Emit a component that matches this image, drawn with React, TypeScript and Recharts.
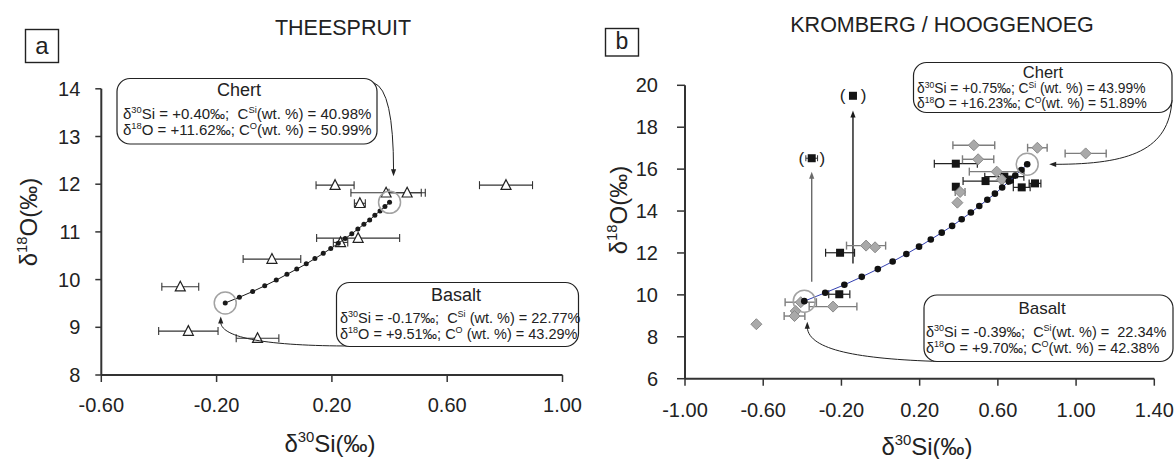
import React from 'react';
import {
  ScatterChart,
  Scatter,
  XAxis,
  YAxis,
  ErrorBar,
  ReferenceDot,
  ReferenceLine,
} from 'recharts';

// ---------- Panel a: Theespruit (triangles) ----------
const thSi = [0.211, 0.388, 0.461, 0.804, 0.297, 0.291, 0.23, -0.008, -0.326, -0.298, -0.058];
const thO = [11.98, 11.82, 11.82, 11.98, 11.6, 10.87, 10.78, 10.43, 9.85, 8.92, 8.77];
const thSiErr = [0.066, 0.122, 0.063, 0.092, 0.019, 0.144, 0.025, 0.1, 0.064, 0.103, 0.074];

// basalt - chert mixing curve (5 % steps)
const thMixSi = [-0.17, -0.121, -0.075, -0.033, 0.007, 0.044, 0.078, 0.111, 0.141, 0.17, 0.196, 0.222, 0.246, 0.269, 0.29, 0.311, 0.331, 0.349, 0.367, 0.384, 0.4];
const thMixO = [9.51, 9.63, 9.75, 9.87, 9.99, 10.11, 10.22, 10.33, 10.44, 10.55, 10.65, 10.76, 10.86, 10.96, 11.06, 11.16, 11.25, 11.35, 11.44, 11.53, 11.62];

const thBasalt = { si: -0.17, o: 9.51 };
const thChert = { si: 0.4, o: 11.62 };

const thXTicks = [-0.6, -0.2, 0.2, 0.6, 1.0];
const thYTicks = [8, 9, 10, 11, 12, 13, 14];

// ---------- Panel b: Kromberg / Hooggenoeg ----------
const krSqSi = [-0.207, -0.211, 0.385, 0.537, 0.385, 0.722, 0.79, 0.633, 0.662];
const krSqO = [12.01, 10.03, 16.26, 15.43, 15.16, 15.13, 15.32, 15.64, 15.5];
const krSqErr = [0.074, 0.054, 0.11, 0.115, 0, 0.043, 0.03, 0.1, 0];

const krDiSi = [0.477, 0.802, 1.049, 0.499, 0.594, 0.62, 0.407, 0.393, -0.074, -0.028, -0.408, -0.243, -0.434, -0.44, -0.635];
const krDiO = [17.14, 17.02, 16.75, 16.47, 15.88, 15.5, 14.91, 14.4, 12.35, 12.27, 9.65, 9.44, 9.23, 8.99, 8.6];
const krDiErr = [0.107, 0.05, 0.105, 0.08, 0.14, 0, 0.025, 0, 0.1, 0, 0.08, 0.122, 0, 0.053, 0];

// bracketed samples and the shift arrows pointing at them
const krOutSi = [-0.352, -0.141];
const krOutO = [16.52, 19.5];
const krOutErr = [0.03, 0];
const krArrowFrom = [10.63, 11.5];
const krArrowTo = [15.88, 18.8];
const krArrowColor = ['#6a6a6a', '#1a1a1a'];

const krMixSi = [-0.39, -0.283, -0.185, -0.096, -0.014, 0.062, 0.132, 0.197, 0.257, 0.313, 0.366, 0.415, 0.462, 0.505, 0.546, 0.585, 0.622, 0.656, 0.689, 0.72, 0.75];
const krMixO = [9.7, 10.1, 10.48, 10.86, 11.23, 11.59, 11.95, 12.3, 12.64, 12.97, 13.29, 13.61, 13.93, 14.24, 14.54, 14.83, 15.12, 15.41, 15.69, 15.96, 16.23];

const krBasalt = { si: -0.39, o: 9.7 };
const krChert = { si: 0.75, o: 16.23 };

const krXTicks = [-1.0, -0.6, -0.2, 0.2, 0.6, 1.0, 1.4];
const krYTicks = [6, 8, 10, 12, 14, 16, 18, 20];

// ---------- helpers ----------
const zip = (xs: number[], ys: number[], errs?: number[]) =>
  xs.map((x, i) => ({ x, y: ys[i], err: errs ? errs[i] : 0 }));

const thTriangles = zip(thSi, thO, thSiErr);
const thMix = zip(thMixSi, thMixO);
const krSquares = zip(krSqSi, krSqO, krSqErr);
const krDiamonds = zip(krDiSi, krDiO, krDiErr);
const krOutliers = zip(krOutSi, krOutO, krOutErr);
const krMix = zip(krMixSi, krMixO);

const INK = '#222';
const FONT = '"Liberation Sans", Arial, Helvetica, sans-serif';

const fmt2 = (v: number) => v.toFixed(2);

const Triangle = (p: any) => {
  const { cx, cy } = p;
  if (cx == null || cy == null) return <g />;
  return (
    <polygon
      points={`${cx},${cy - 5.5} ${cx + 5},${cy + 4.2} ${cx - 5},${cy + 4.2}`}
      fill="#fff"
      stroke={INK}
      strokeWidth={1.2}
    />
  );
};

const Diamond = (p: any) => {
  const { cx, cy } = p;
  if (cx == null || cy == null) return <g />;
  return (
    <polygon
      points={`${cx},${cy - 5.5} ${cx + 5.5},${cy} ${cx},${cy + 5.5} ${cx - 5.5},${cy}`}
      fill="#a9a9a9"
      stroke="#8a8a8a"
      strokeWidth={1}
    />
  );
};

const Square = (p: any) => {
  const { cx, cy } = p;
  if (cx == null || cy == null) return <g />;
  return <rect x={cx - 4} y={cy - 4} width={8} height={8} fill="#151515" />;
};

const BracketSquare = (p: any) => {
  const { cx, cy } = p;
  if (cx == null || cy == null) return <g />;
  return (
    <g>
      <rect x={cx - 4} y={cy - 4} width={8} height={8} fill="#151515" />
      <text x={cx - 10.5} y={cy + 5.5} fontSize={17} textAnchor="middle" fill={INK}>(</text>
      <text x={cx + 10.5} y={cy + 5.5} fontSize={17} textAnchor="middle" fill={INK}>)</text>
    </g>
  );
};

const MixDotA = (p: any) => {
  const { cx, cy } = p;
  if (cx == null || cy == null) return <g />;
  return <circle cx={cx} cy={cy} r={2.5} fill="#1a1a1a" />;
};

const MixDotB = (p: any) => {
  const { cx, cy } = p;
  if (cx == null || cy == null) return <g />;
  return <circle cx={cx} cy={cy} r={3.3} fill="#111" />;
};

// small filled arrow head with its tip at (tx, ty)
const head = (tx: number, ty: number, dir: 'up' | 'down' | 'left', color = INK) => {
  const l = 7;
  const w = 2.6;
  let pts = '';
  if (dir === 'down') pts = `${tx},${ty} ${tx - w},${ty - l} ${tx + w},${ty - l}`;
  if (dir === 'up') pts = `${tx},${ty} ${tx - w},${ty + l} ${tx + w},${ty + l}`;
  if (dir === 'left') pts = `${tx},${ty} ${tx + l},${ty - w} ${tx + l},${ty + w}`;
  return <polygon points={pts} fill={color} />;
};

const RING = '#a2a2a2';

// end-member rings with the call-out arrows coming from the boxes
const ChertA = (p: any) => {
  const { cx, cy } = p;
  const tx = cx + 4;
  const ty = cy - 26;
  return (
    <g>
      <circle cx={cx} cy={cy} r={11} fill="none" stroke={RING} strokeWidth={1.5} />
      <path d={`M 374 83 Q ${tx} 90 ${tx} ${ty - 6}`} fill="none" stroke={INK} strokeWidth={1} />
      {head(tx, ty, 'down')}
    </g>
  );
};

const BasaltA = (p: any) => {
  const { cx, cy } = p;
  const tx = cx - 4.5;
  const ty = cy + 13.5;
  return (
    <g>
      <circle cx={cx} cy={cy} r={11} fill="none" stroke={RING} strokeWidth={1.5} />
      <path
        d={`M 352 346 C 268 346 ${tx + 1} 338 ${tx} ${ty + 6}`}
        fill="none"
        stroke={INK}
        strokeWidth={1}
      />
      {head(tx, ty, 'up')}
    </g>
  );
};

const ChertB = (p: any) => {
  const { cx, cy } = p;
  const tx = cx + 22;
  const ty = cy;
  return (
    <g>
      <circle cx={cx} cy={cy} r={11} fill="none" stroke={RING} strokeWidth={1.5} />
      <path
        d={`M 582 100 C 579 150 540 ${ty} ${tx + 6} ${ty}`}
        fill="none"
        stroke={INK}
        strokeWidth={1}
      />
      {head(tx, ty, 'left')}
    </g>
  );
};

const BasaltB = (p: any) => {
  const { cx, cy } = p;
  const tx = cx + 3;
  const ty = cy + 20.5;
  return (
    <g>
      <circle cx={cx} cy={cy} r={11} fill="none" stroke={RING} strokeWidth={1.5} />
      <path
        d={`M 350 361.5 C 268 359 ${tx + 2} 350 ${tx} ${ty + 6}`}
        fill="none"
        stroke={INK}
        strokeWidth={1}
      />
      {head(tx, ty, 'up')}
    </g>
  );
};

const shiftArrow = (color: string) => (p: any) => {
  const { x1, y1, x2, y2 } = p;
  if (x1 == null) return <g />;
  return (
    <g>
      <line x1={x1} y1={y1} x2={x2} y2={y2 + 6} stroke={color} strokeWidth={1.4} />
      {head(x2, y2, 'up', color)}
    </g>
  );
};

// text with superscript pieces: a segment starting with '^' is raised
function Rich(props: {
  x: number;
  y: number;
  fs: number;
  segs: string[];
  anchor?: 'start' | 'middle' | 'end';
  transform?: string;
  lift?: number;
}) {
  const { x, y, fs, segs, anchor = 'start', transform, lift = 0.42 } = props;
  const shift = fs * lift;
  let up = false;
  return (
    <text
      x={x}
      y={y}
      fontSize={fs}
      textAnchor={anchor}
      transform={transform}
      fill={INK}
      style={{ whiteSpace: 'pre' }}
    >
      {segs.map((s, i) => {
        const sup = s.startsWith('^');
        const t = sup ? s.slice(1) : s;
        let dy = 0;
        if (sup && !up) {
          dy = -shift;
          up = true;
        } else if (!sup && up) {
          dy = shift;
          up = false;
        }
        return (
          <tspan key={i} dy={dy || undefined} fontSize={sup ? fs * 0.62 : undefined}>
            {t}
          </tspan>
        );
      })}
    </text>
  );
}

const axisLine = { stroke: '#333', strokeWidth: 2 };
const tickLine = { stroke: '#333', strokeWidth: 1.5 };
const tickText = { fill: INK, fontSize: 20 };

function PanelA() {
  return (
    <ScatterChart
      width={590}
      height={459}
      margin={{ top: 88.8, right: 27.5, bottom: 0, left: 0 }}
    >
      <XAxis
        type="number"
        dataKey="x"
        domain={[-0.6, 1.0]}
        ticks={thXTicks}
        interval={0}
        tickFormatter={fmt2}
        height={84}
        tickSize={7}
        tickMargin={16}
        axisLine={axisLine}
        tickLine={tickLine}
        tick={tickText}
      />
      <YAxis
        type="number"
        dataKey="y"
        domain={[8, 14]}
        ticks={thYTicks}
        interval={0}
        width={101.3}
        tickSize={6}
        tickMargin={15}
        axisLine={axisLine}
        tickLine={tickLine}
        tick={tickText}
      />
      <Scatter data={thTriangles} shape={Triangle} isAnimationActive={false}>
        <ErrorBar dataKey="err" direction="x" width={4} stroke="#333" strokeWidth={1.1} />
      </Scatter>
      <Scatter
        data={thMix}
        shape={MixDotA}
        line={{ stroke: '#1a1a1a', strokeWidth: 1 }}
        lineType="joint"
        isAnimationActive={false}
      />
      <ReferenceDot x={thChert.si} y={thChert.o} r={11} shape={ChertA} />
      <ReferenceDot x={thBasalt.si} y={thBasalt.o} r={11} shape={BasaltA} />
    </ScatterChart>
  );
}

function PanelB() {
  return (
    <ScatterChart
      width={585}
      height={459}
      margin={{ top: 85.3, right: 20.7, bottom: 0, left: 0 }}
    >
      <XAxis
        type="number"
        dataKey="x"
        domain={[-1.0, 1.4]}
        ticks={krXTicks}
        interval={0}
        tickFormatter={fmt2}
        height={80.3}
        tickSize={7}
        tickMargin={17}
        axisLine={axisLine}
        tickLine={tickLine}
        tick={tickText}
      />
      <YAxis
        type="number"
        dataKey="y"
        domain={[6, 20]}
        ticks={krYTicks}
        interval={0}
        width={95}
        tickSize={8}
        tickMargin={19}
        axisLine={axisLine}
        tickLine={tickLine}
        tick={tickText}
      />
      {krOutSi.map((si, i) => (
        <ReferenceLine
          key={i}
          segment={[
            { x: si, y: krArrowFrom[i] },
            { x: si, y: krArrowTo[i] },
          ]}
          stroke={krArrowColor[i]}
          shape={shiftArrow(krArrowColor[i])}
        />
      ))}
      <Scatter data={krSquares} shape={Square} isAnimationActive={false}>
        <ErrorBar dataKey="err" direction="x" width={4} stroke="#222" strokeWidth={1.2} />
      </Scatter>
      <Scatter data={krDiamonds} shape={Diamond} isAnimationActive={false}>
        <ErrorBar dataKey="err" direction="x" width={4} stroke="#7d7d7d" strokeWidth={1.4} />
      </Scatter>
      <Scatter data={krOutliers} shape={BracketSquare} isAnimationActive={false}>
        <ErrorBar dataKey="err" direction="x" width={3} stroke="#333" strokeWidth={1} />
      </Scatter>
      <Scatter
        data={krMix}
        shape={MixDotB}
        line={{ stroke: '#3340b0', strokeWidth: 1 }}
        lineType="joint"
        isAnimationActive={false}
      />
      <ReferenceDot x={krChert.si} y={krChert.o} r={11} shape={ChertB} />
      <ReferenceDot x={krBasalt.si} y={krBasalt.o} r={11} shape={BasaltB} />
    </ScatterChart>
  );
}

function Labels() {
  return (
    <svg
      width={1175}
      height={459}
      style={{ position: 'absolute', left: 0, top: 0, pointerEvents: 'none' }}
    >
      {/* panel tags */}
      <rect x={25.5} y={29.5} width={33} height={33} fill="none" stroke={INK} strokeWidth={1.4} />
      <text x={42} y={54} fontSize={24} textAnchor="middle" fill={INK}>a</text>
      <rect x={605.5} y={28.5} width={33} height={27.5} fill="none" stroke={INK} strokeWidth={1.4} />
      <text x={622} y={49} fontSize={23} textAnchor="middle" fill={INK}>b</text>

      {/* titles */}
      <text x={343} y={35} fontSize={21.5} textAnchor="middle" fill={INK}>THEESPRUIT</text>
      <text x={942} y={32} fontSize={21.5} textAnchor="middle" fill={INK}>KROMBERG / HOOGGENOEG</text>

      {/* axis titles */}
      <Rich x={330} y={452} fs={24} anchor="middle" segs={['δ', '^30', 'Si(‰)']} />
      <Rich x={927} y={455} fs={24} anchor="middle" segs={['δ', '^30', 'Si(‰)']} />
      <Rich x={0} y={0} fs={24} anchor="middle" transform="translate(37,222) rotate(-90)" segs={['δ', '^18', 'O(‰)']} />
      <Rich x={0} y={0} fs={24} anchor="middle" transform="translate(627,210) rotate(-90)" segs={['δ', '^18', 'O(‰)']} />

      {/* panel a: chert box */}
      <rect x={117} y={78.5} width={260} height={65.5} rx={13} fill="#fff" stroke={INK} strokeWidth={1.2} />
      <text x={239} y={96} fontSize={18} textAnchor="middle" fill={INK}>Chert</text>
      <Rich x={123} y={119} fs={15} segs={['δ', '^30', 'Si = +0.40‰;  C', '^Si', '(wt. %) = 40.98%']} />
      <Rich x={123} y={135} fs={15} segs={['δ', '^18', 'O = +11.62‰; C', '^O', '(wt. %) = 50.99%']} />

      {/* panel a: basalt box */}
      <rect x={336.5} y={282.5} width={242} height={64} rx={13} fill="#fff" stroke={INK} strokeWidth={1.2} />
      <text x={456} y={300.5} fontSize={18} textAnchor="middle" fill={INK}>Basalt</text>
      <Rich x={340} y={323} fs={14.5} lift={0.38} segs={['δ', '^30', 'Si = -0.17‰;  C', '^Si', ' (wt. %) = 22.77%']} />
      <Rich x={340} y={338.5} fs={14.5} lift={0.38} segs={['δ', '^18', 'O = +9.51‰; C', '^O', ' (wt. %) = 43.29%']} />

      {/* panel b: chert box */}
      <rect x={913.5} y={62.5} width={258.5} height={50} rx={13} fill="#fff" stroke={INK} strokeWidth={1.2} />
      <text x={1043} y={78} fontSize={16.5} textAnchor="middle" fill={INK}>Chert</text>
      <Rich x={917} y={93} fs={13.8} lift={0.34} segs={['δ', '^30', 'Si = +0.75‰; C', '^Si', ' (wt. %) = 43.99%']} />
      <Rich x={917} y={108} fs={13.8} lift={0.34} segs={['δ', '^18', 'O = +16.23‰; C', '^O', '(wt. %) = 51.89%']} />

      {/* panel b: basalt box */}
      <rect x={924} y={295} width={249} height={66.5} rx={13} fill="#fff" stroke={INK} strokeWidth={1.2} />
      <text x={1042} y={313.5} fontSize={17} textAnchor="middle" fill={INK}>Basalt</text>
      <Rich x={926} y={337} fs={14.5} segs={['δ', '^30', 'Si = -0.39‰;  C', '^Si', '(wt. %) =  22.34%']} />
      <Rich x={926} y={353} fs={14.5} segs={['δ', '^18', 'O = +9.70‰; C', '^O', '(wt. %) = 42.38%']} />
    </svg>
  );
}

export default function App() {
  return (
    <div
      style={{
        position: 'absolute',
        left: 0,
        top: 0,
        width: 1175,
        height: 459,
        background: '#fff',
        fontFamily: FONT,
        overflow: 'hidden',
      }}
    >
      <div style={{ position: 'absolute', left: 0, top: 0 }}>
        <PanelA />
      </div>
      <div style={{ position: 'absolute', left: 590, top: 0 }}>
        <PanelB />
      </div>
      <Labels />
    </div>
  );
}
